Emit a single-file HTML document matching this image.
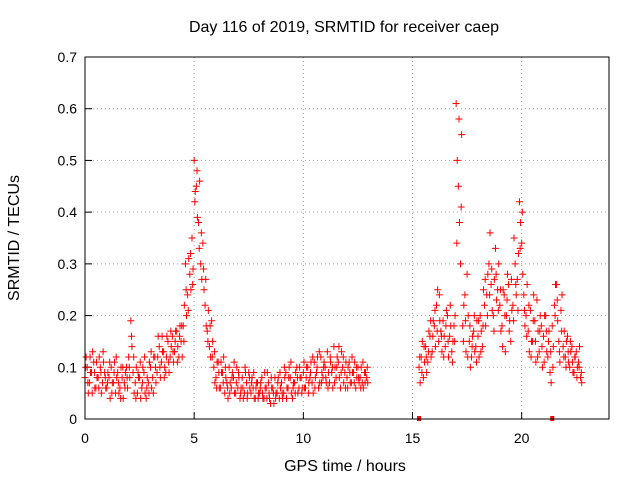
<!DOCTYPE html>
<html><head><meta charset="utf-8"><style>
body{margin:0;background:#fff;}
svg{display:block;font-family:"Liberation Sans",sans-serif;}
</style></head><body>
<svg id="chart" width="640" height="480">
<text x="344" y="32" font-size="16" text-anchor="middle">Day 116 of 2019, SRMTID for receiver caep</text>
<text transform="translate(19,238) rotate(-90)" font-size="16" text-anchor="middle">SRMTID / TECUs</text>
<text x="345" y="471" font-size="16" text-anchor="middle">GPS time / hours</text>
<g id="grid"></g>
<g id="ticks"></g>
<g id="marks"></g>
<rect x="85" y="57" width="524" height="362" fill="none" stroke="#000"/>
</svg>
<script>
const xTicks=[0,5,10,15,20];
const yTicks=[0,0.1,0.2,0.3,0.4,0.5,0.6,0.7];
const yTickLabels=["0","0.1","0.2","0.3","0.4","0.5","0.6","0.7"];
const seg1Start=0.0, seg2Start=15.3, step=0.1;
const srmtidA1=[0.08,0.10,0.07,0.09,0.11,0.06,0.08,0.10,0.07,0.09,
0.06,0.08,0.10,0.07,0.05,0.09,0.06,0.08,0.07,0.10,
0.12,0.19,0.09,0.07,0.05,0.08,0.06,0.09,0.04,0.07,
0.10,0.08,0.12,0.09,0.14,0.11,0.13,0.09,0.15,0.12,
0.16,0.13,0.17,0.12,0.15,0.18,0.30,0.24,0.28,0.35,
0.50,0.45,0.38,0.30,0.34,0.22,0.17,0.14,0.19,0.10,
0.08,0.11,0.06,0.09,0.05,0.07,0.10,0.06,0.08,0.05,
0.06,0.04,0.08,0.05,0.07,0.09,0.05,0.06,0.04,0.07,
0.05,0.08,0.04,0.06,0.07,0.03,0.06,0.08,0.05,0.04,
0.07,0.05,0.09,0.06,0.08,0.04,0.07,0.10,0.06,0.08,
0.09,0.06,0.10,0.08,0.07,0.11,0.09,0.06,0.12,0.08,
0.10,0.13,0.07,0.09,0.14,0.08,0.11,0.06,0.10,0.09,
0.08,0.11,0.07,0.09,0.06,0.10,0.08,0.07,0.09,0.08];
const srmtidB1=[0.12,0.05,0.09,0.13,0.06,0.08,0.12,0.05,0.11,0.06,
0.09,0.04,0.07,0.11,0.08,0.05,0.10,0.04,0.09,0.06,
0.08,0.14,0.05,0.10,0.08,0.04,0.10,0.05,0.08,0.11,
0.06,0.12,0.07,0.16,0.08,0.13,0.10,0.16,0.09,0.14,
0.11,0.17,0.14,0.18,0.12,0.22,0.20,0.31,0.25,0.29,
0.44,0.39,0.46,0.27,0.25,0.18,0.21,0.12,0.15,0.07,
0.11,0.06,0.09,0.12,0.08,0.04,0.07,0.09,0.05,0.10,
0.08,0.06,0.04,0.09,0.05,0.06,0.08,0.04,0.07,0.05,
0.07,0.04,0.06,0.09,0.04,0.06,0.03,0.05,0.08,0.06,
0.04,0.08,0.06,0.10,0.05,0.07,0.09,0.05,0.08,0.06,
0.06,0.10,0.07,0.11,0.05,0.08,0.12,0.07,0.09,0.11,
0.07,0.09,0.11,0.06,0.10,0.12,0.08,0.13,0.07,0.11,
0.10,0.07,0.09,0.11,0.08,0.07,0.10,0.06,0.09,0.07];
const srmtidC1=[0.10,0.07,0.12,0.05,0.09,0.11,0.06,0.09,0.13,0.08,
0.07,0.11,0.05,0.09,0.12,0.07,0.04,0.10,0.06,0.08,
0.10,0.16,0.12,0.04,0.09,0.11,0.07,0.12,0.06,0.05,
0.13,0.05,0.10,0.12,0.10,0.16,0.08,0.12,0.11,0.17,
0.13,0.15,0.11,0.16,0.18,0.15,0.25,0.21,0.32,0.26,
0.42,0.48,0.33,0.36,0.29,0.27,0.15,0.18,0.12,0.13,
0.06,0.09,0.11,0.07,0.10,0.06,0.05,0.08,0.11,0.07,
0.09,0.05,0.06,0.10,0.04,0.08,0.07,0.09,0.06,0.04,
0.06,0.05,0.09,0.04,0.05,0.08,0.05,0.04,0.07,0.09,
0.05,0.10,0.04,0.08,0.11,0.06,0.05,0.08,0.10,0.05,
0.11,0.08,0.05,0.09,0.12,0.06,0.10,0.13,0.07,0.10,
0.08,0.06,0.12,0.10,0.07,0.10,0.14,0.09,0.12,0.06,
0.06,0.09,0.12,0.07,0.10,0.08,0.06,0.11,0.07,0.10];
const srmtidA2=[0.10,0.12,0.08,0.14,0.11,0.16,0.13,
0.18,0.22,0.15,0.17,0.19,0.14,0.20,0.16,0.13,0.18,
0.61,0.45,0.30,0.18,0.24,0.28,0.15,0.12,0.17,0.14,
0.16,0.20,0.14,0.22,0.24,0.30,0.26,0.20,0.33,0.25,
0.22,0.18,0.24,0.20,0.26,0.15,0.22,0.30,0.27,0.42,
0.34,0.24,0.20,0.17,0.21,0.15,0.19,0.23,0.13,0.18,
0.16,0.20,0.12,0.09,0.18,0.22,0.26,0.15,0.21,0.14,
0.12,0.16,0.10,0.14,0.09,0.13,0.11,0.08];
const srmtidB2=[0.07,0.15,0.11,0.09,0.17,0.12,0.19,
0.14,0.25,0.19,0.13,0.16,0.21,0.12,0.18,0.15,0.20,
0.50,0.38,0.55,0.22,0.13,0.20,0.10,0.16,0.13,0.19,
0.12,0.17,0.25,0.18,0.28,0.36,0.21,0.27,0.23,0.30,
0.17,0.25,0.13,0.28,0.19,0.21,0.35,0.24,0.32,0.38,
0.28,0.18,0.26,0.13,0.15,0.24,0.11,0.17,0.20,0.10,
0.20,0.13,0.17,0.07,0.14,0.26,0.19,0.11,0.24,0.17,
0.15,0.11,0.13,0.09,0.12,0.10,0.14,0.07];
const srmtidC2=[0.12,0.09,0.14,0.12,0.13,0.19,0.16,
0.21,0.17,0.24,0.16,0.12,0.18,0.15,0.22,0.11,0.15,
0.34,0.58,0.41,0.15,0.19,0.12,0.18,0.14,0.20,0.11,
0.19,0.13,0.18,0.27,0.20,0.24,0.29,0.17,0.28,0.21,
0.25,0.14,0.20,0.23,0.17,0.27,0.19,0.26,0.21,0.33,
0.40,0.21,0.16,0.22,0.12,0.19,0.15,0.12,0.17,0.14,
0.11,0.17,0.15,0.13,0.10,0.20,0.23,0.13,0.17,0.12,
0.10,0.13,0.15,0.11,0.12,0.08,0.10,0.09];
const gapMarkers=[15.3,21.4];

const NS="http://www.w3.org/2000/svg";
const X=t=>85+t*(524/24);
const Y=v=>419-v*(362/0.7);
const grid=document.getElementById('grid'),ticks=document.getElementById('ticks'),marks=document.getElementById('marks');
function mk(tag,attrs,parent){const e=document.createElementNS(NS,tag);for(const k in attrs)e.setAttribute(k,attrs[k]);parent.appendChild(e);return e;}
xTicks.forEach(t=>{
 if(t>0){const g=mk('line',{x1:X(t),x2:X(t),y1:57,y2:419,stroke:'#a0a0a0','stroke-dasharray':'1,3'},grid);
 
 }
 const tk=mk('line',{x1:X(t),x2:X(t),y1:419,y2:412,stroke:'#000'},ticks);
 
 
 const l=mk('text',{x:X(t),y:443,'font-size':14,'text-anchor':'middle'},ticks);l.textContent=t;
 
 
});
yTicks.forEach((v,i)=>{
 if(v>0&&v<0.7){const g=mk('line',{x1:85,x2:609,y1:Y(v),y2:Y(v),stroke:'#a0a0a0','stroke-dasharray':'1,3'},grid);
 
 }
 const tk=mk('line',{x1:85,x2:92,y1:Y(v),y2:Y(v),stroke:'#000'},ticks);
 
 
 const l=mk('text',{x:77,y:Y(v)+5,'font-size':14,'text-anchor':'end'},ticks);l.textContent=yTickLabels[i];
 
 
});
function plus(t,v){
 const x=X(t),y=Y(v);
 const p=mk('path',{d:`M${x-3.5},${y}h7M${x},${y-3.5}v7`,stroke:'#ff0000','stroke-width':1},marks);
 
 
}
function series(start,arr,off){arr.forEach((v,i)=>plus(start+i*step+off,v));}
series(seg1Start,srmtidA1,0);series(seg1Start,srmtidB1,0.05);series(seg1Start,srmtidC1,0.03);
series(seg2Start,srmtidA2,0);series(seg2Start,srmtidB2,0.05);series(seg2Start,srmtidC2,0.03);
gapMarkers.forEach(t=>{const r=mk('rect',{x:X(t)-2,y:416,width:4,height:5,fill:'#ff0000'},marks);
 
 });
</script>
</body></html>
